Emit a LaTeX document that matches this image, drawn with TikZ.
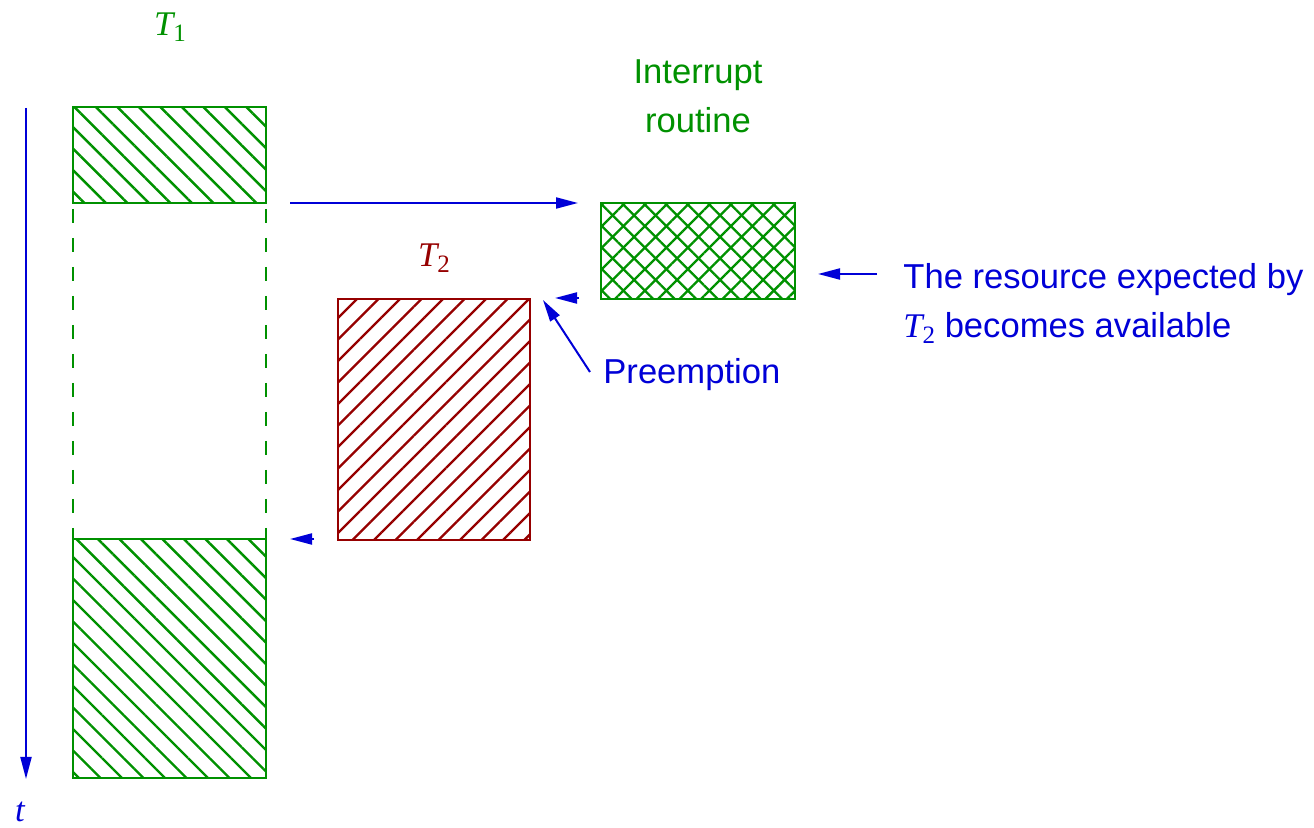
\documentclass[tikz,border=0pt]{standalone}
\usepackage{fontspec}
\setmainfont{Liberation Sans}
\newfontfamily\serifit{Liberation Serif}[ItalicFont=* Italic]
\usetikzlibrary{arrows.meta,patterns.meta}

\definecolor{tgreen}{RGB}{0,145,0}
\definecolor{tred}{RGB}{150,0,0}
\definecolor{tblue}{RGB}{0,0,215}

% task name with an italic serif T and an upright subscript
\newcommand\tname[1]{{\serifit\itshape T}\raisebox{-0.35ex}{\serifit\fontsize{12.5}{12.5}\selectfont #1}}

\begin{document}
\begin{tikzpicture}[x=0.5pt,y=-0.5pt,
  every node/.style={font=\fontsize{17.3}{24.5}\selectfont},
  box/.style={draw, line width=1.4pt, inner sep=0pt, outer sep=0pt},
  greenbox/.style={box, draw=tgreen,
    pattern={Lines[angle=-45,distance=7.6pt,line width=1.2pt]}, pattern color=tgreen},
  redbox/.style={box, draw=tred,
    pattern={Lines[angle=45,distance=7.6pt,line width=1.2pt]}, pattern color=tred},
  arr/.style={draw=tblue, line width=1pt, -{Triangle[length=11pt,width=5.5pt]}},
  lbl/.style={text=tblue, inner sep=0pt, align=left}
]
\useasboundingbox (0,0) rectangle (1314,828);

% time axis
\coordinate (ax0) at (26,108);
\coordinate (ax1) at (26,779);
\draw[arr] (ax0) -- (ax1);
\node[text=tblue, inner sep=0pt] (tlab) at (20,812) {\serifit\itshape t};

% task T1, split by the interrupt
\node[text=tgreen] (t1lab) at (170,27) {\tname{1}};
\node[greenbox, minimum width=96.5pt, minimum height=48pt] (t1a) at (169.5,155) {};
\node[greenbox, minimum width=96.5pt, minimum height=119.5pt] (t1b) at (169.5,658.5) {};
\draw[tgreen, line width=1.3pt, dash pattern=on 7pt off 7.5pt, dash phase=-3pt]
  (t1a.south west) -- (t1b.north west)
  (t1a.south east) -- (t1b.north east);

% interrupt routine
\node[text=tgreen, align=center] (irlab) at (698,96) {Interrupt\\routine};
\node[greenbox, minimum width=97pt, minimum height=48pt] (ir) at (698,251) {};
\fill[pattern={Lines[angle=45,distance=7.6pt,line width=1.2pt]}, pattern color=tgreen]
  (ir.south west) rectangle (ir.north east);
\draw[tgreen, line width=1.4pt] (ir.south west) rectangle (ir.north east);

% task T2
\node[text=tred] (t2lab) at (434,258) {\tname{2}};
\node[redbox, minimum width=96pt, minimum height=120.5pt] (t2) at (434,419.5) {};

% arrows
\coordinate (a1s) at (290,203);
\coordinate (a1e) at (578,203);
\draw[arr] (a1s) -- (a1e);

\coordinate (a2s) at (579,298);
\coordinate (a2e) at (555,298);
\draw[arr] (a2s) -- (a2e);

\coordinate (a3s) at (314,539);
\coordinate (a3e) at (290,539);
\draw[arr] (a3s) -- (a3e);

\coordinate (a4s) at (590,372);
\coordinate (a4e) at (543,300);
\draw[arr] (a4s) -- (a4e);

\coordinate (a5s) at (877,274);
\coordinate (a5e) at (818,274);
\draw[arr] (a5s) -- (a5e);

% labels
\node[lbl, anchor=base west] (pre) at (603,384) {Preemption};
\node[lbl, anchor=north west] (res) at (903,263) {The resource expected by\\\tname{2} becomes available};
\end{tikzpicture}
\end{document}
